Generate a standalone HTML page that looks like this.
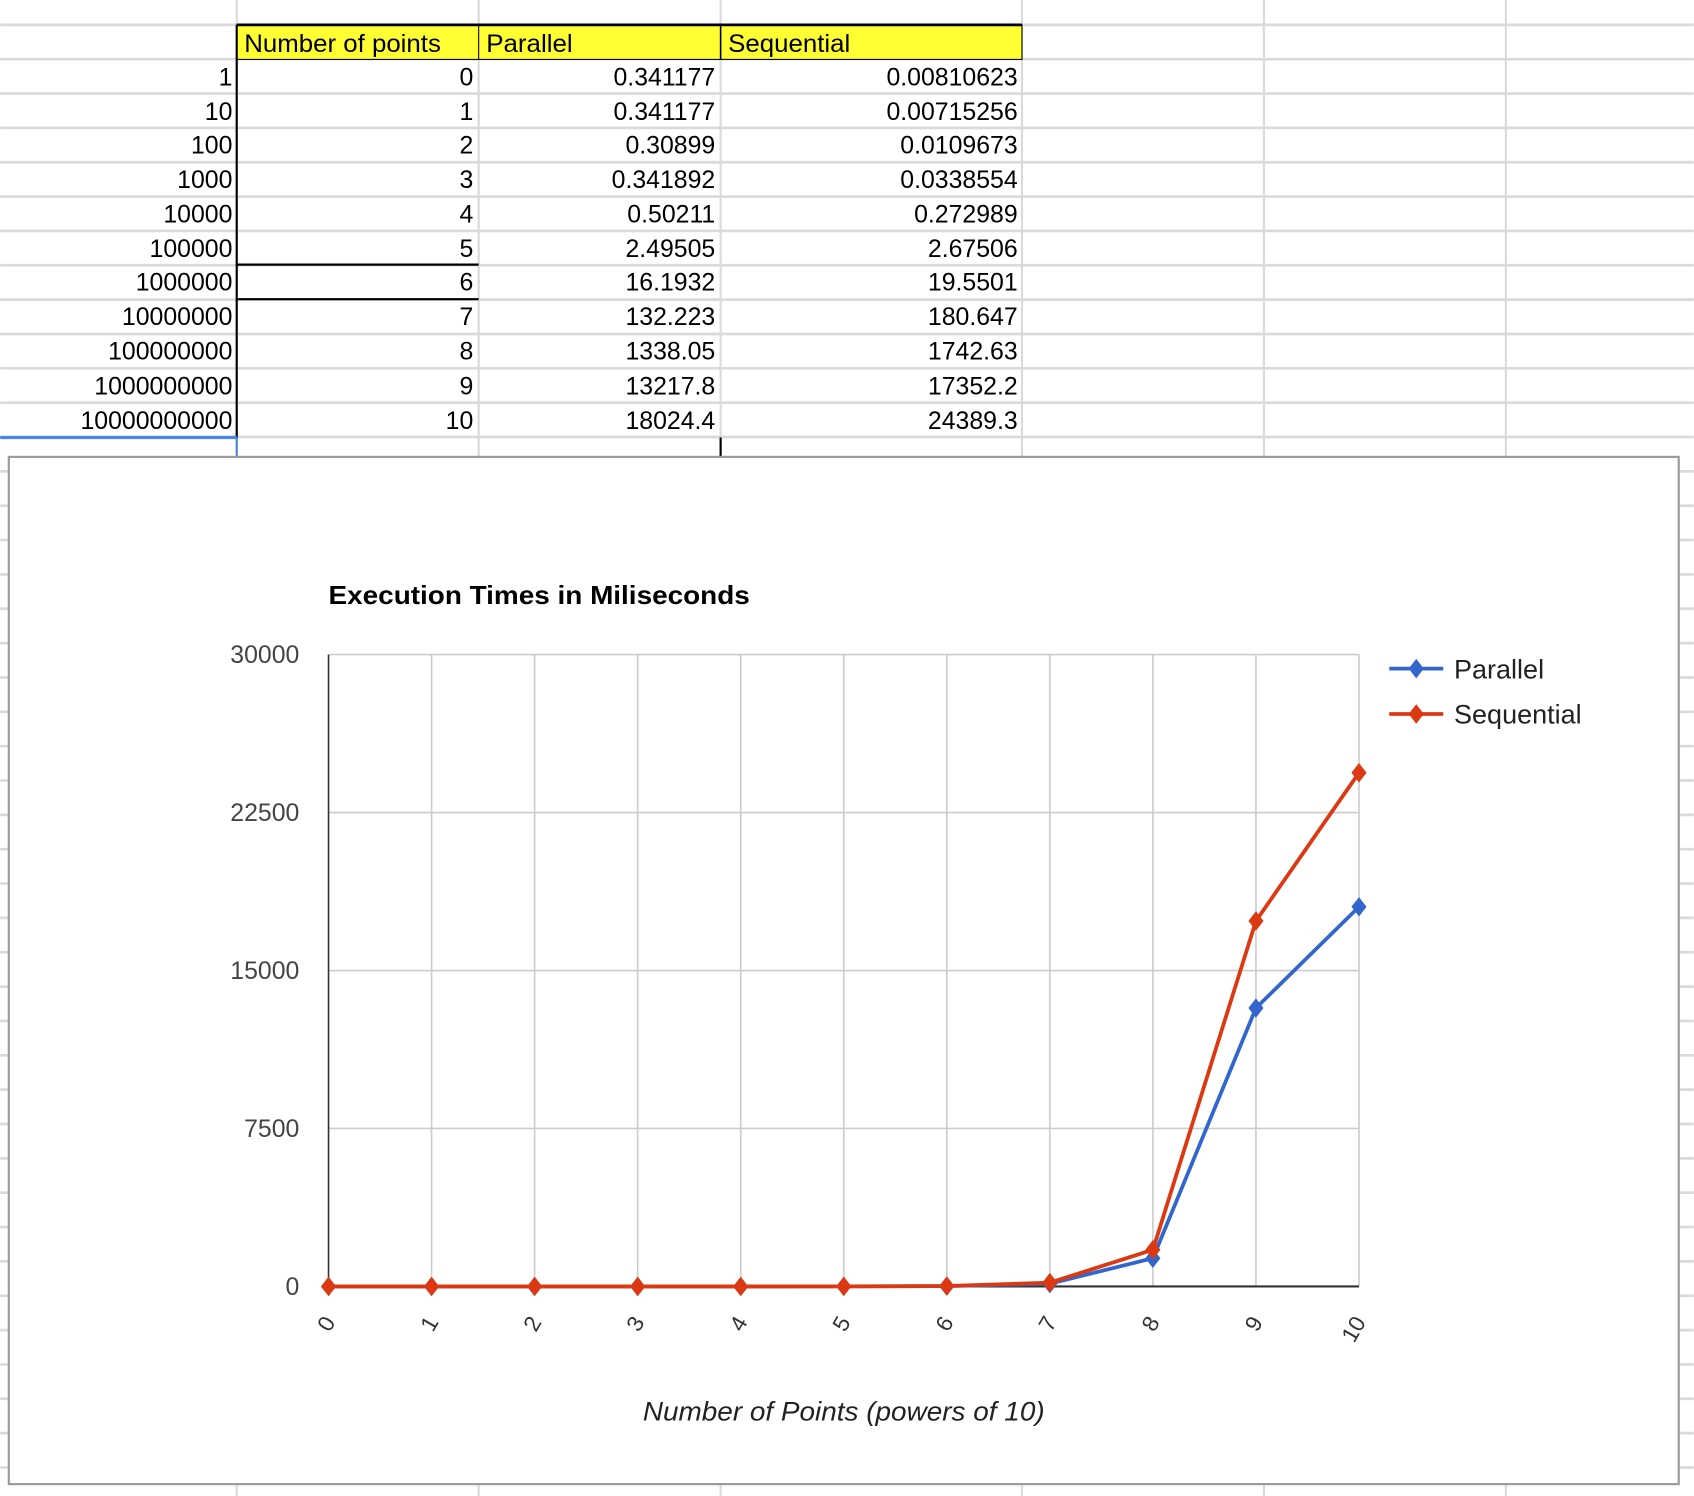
<!DOCTYPE html>
<html><head><meta charset="utf-8"><style>
html,body{margin:0;padding:0;background:#fff;}
svg{display:block;font-family:"Liberation Sans",Arial,sans-serif;}
</style></head><body>
<svg id="root" width="1694" height="1496" viewBox="0 0 1568 1385">
<g id="grid"></g>
<g id="table"></g>
<g id="chart"></g>
</svg>
<script>
const categories=[0,1,2,3,4,5,6,7,8,9,10];
const pointCounts=["1","10","100","1000","10000","100000","1000000","10000000","100000000","1000000000","10000000000"];
const parallelValues=[0.341177,0.341177,0.30899,0.341892,0.50211,2.49505,16.1932,132.223,1338.05,13217.8,18024.4];
const sequentialValues=[0.00810623,0.00715256,0.0109673,0.0338554,0.272989,2.67506,19.5501,180.647,1742.63,17352.2,24389.3];
const parallelLabels=["0.341177","0.341177","0.30899","0.341892","0.50211","2.49505","16.1932","132.223","1338.05","13217.8","18024.4"];
const sequentialLabels=["0.00810623","0.00715256","0.0109673","0.0338554","0.272989","2.67506","19.5501","180.647","1742.63","17352.2","24389.3"];
const yTicks=[0,7500,15000,22500,30000];

const NS="http://www.w3.org/2000/svg";
function mk(parent,tag,attrs,text){const e=document.createElementNS(NS,tag);for(const k in attrs)e.setAttribute(k,attrs[k]);if(text!==undefined)e.textContent=text;parent.appendChild(e);return e;}
const grid=document.getElementById('grid'),table=document.getElementById('table'),chart=document.getElementById('chart');
const cols=[219,443,667,946,1170,1394];
const rowY=[23,55,87,118,150,182,214,245,277,309,341,373,405];
for(let y=23;y<1385;y+=31.8){const l=mk(grid,'line',{x1:0,x2:1568,y1:y,y2:y,stroke:'#dadada','stroke-width':2.5});

}
for(const x of cols){const l=mk(grid,'line',{x1:x,x2:x,y1:0,y2:1385,stroke:'#dadada','stroke-width':2});

}
const hdr=mk(table,'rect',{x:219,y:23,width:727,height:32,fill:'#ffff33',stroke:'#000','stroke-width':1});


mk(table,'line',{x1:219,x2:946,y1:23,y2:23,stroke:'#000','stroke-width':2.5});
mk(table,'line',{x1:443,x2:443,y1:23,y2:55,stroke:'#000','stroke-width':1});
mk(table,'line',{x1:667,x2:667,y1:23,y2:55,stroke:'#000','stroke-width':1.5});
const heads=["Number of points","Parallel","Sequential"];
heads.forEach((h,i)=>{const t=mk(table,'text',{x:cols[i]+7,y:48,'font-size':23,fill:'#000','textLength':i===0?182:(i===1?80:113),'lengthAdjust':'spacingAndGlyphs'},h);

});
mk(table,'line',{x1:219,x2:219,y1:23,y2:405,stroke:'#000','stroke-width':2});
mk(table,'line',{x1:219,x2:443,y1:245,y2:245,stroke:'#000','stroke-width':2});
mk(table,'line',{x1:219,x2:443,y1:277,y2:277,stroke:'#000','stroke-width':2});
mk(table,'line',{x1:0,x2:219,y1:405,y2:405,stroke:'#4a86e8','stroke-width':3});
mk(table,'line',{x1:219,x2:219,y1:405,y2:423,stroke:'#4a86e8','stroke-width':2});
mk(table,'line',{x1:667,x2:667,y1:405,y2:423,stroke:'#000','stroke-width':2});
categories.forEach((c,i)=>{const y=rowY[i+1]+24;
const cells=[[215,pointCounts[i]],[438,String(c)],[662,parallelLabels[i]],[942,sequentialLabels[i]]];
cells.forEach(([x,s])=>{const t=mk(table,'text',{x:x,y:y,'font-size':23,'text-anchor':'end',fill:'#000'},s);

});});
const box=mk(chart,'rect',{x:8,y:423,width:1546,height:951,fill:'#fff',stroke:'#9a9a9a','stroke-width':2});


const X0=304,X1=1258,Y0=1191,Y1=606,YMAX=30000;
const xs=i=>X0+(X1-X0)*i/(categories.length-1);
const ys=v=>Y0-(Y0-Y1)*v/YMAX;
const tt=mk(chart,'text',{x:304,y:559,'font-size':24,'font-weight':'bold',fill:'#000',textLength:390,lengthAdjust:'spacingAndGlyphs'},'Execution Times in Miliseconds');


categories.forEach((c,i)=>{if(i>0){const g=mk(chart,'line',{x1:xs(i),x2:xs(i),y1:Y1,y2:Y0,stroke:'#cccccc','stroke-width':1.5});

}
const t=mk(chart,'text',{x:0,y:0,'font-size':21,fill:'#333','text-anchor':'end',transform:`translate(${xs(i)+7},${Y0+33}) rotate(-60)`},String(c));

});
yTicks.forEach(v=>{if(v>0){const g=mk(chart,'line',{x1:X0,x2:X1,y1:ys(v),y2:ys(v),stroke:'#cccccc','stroke-width':1.5});

}
const t=mk(chart,'text',{x:277,y:ys(v)+8,'font-size':23,fill:'#444','text-anchor':'end'},String(v));

});
mk(chart,'line',{x1:X0,x2:X0,y1:Y1,y2:Y0,stroke:'#333','stroke-width':1.5});
mk(chart,'line',{x1:X0,x2:X1,y1:Y0,y2:Y0,stroke:'#333','stroke-width':2});
const at=mk(chart,'text',{x:781,y:1315,'font-size':25,'font-style':'italic',fill:'#222','text-anchor':'middle',textLength:372,lengthAdjust:'spacingAndGlyphs'},'Number of Points (powers of 10)');


function diamond(g,x,y,col){return mk(g,'path',{d:`M${x} ${y-9}L${x+7} ${y}L${x} ${y+9}L${x-7} ${y}Z`,fill:col});}
function series(vals,col,name){const g=mk(chart,'g',{});


mk(g,'polyline',{points:vals.map((v,i)=>xs(i)+','+ys(v)).join(' '),fill:'none',stroke:col,'stroke-width':3.5,'stroke-linejoin':'round'});
vals.forEach((v,i)=>{const d=diamond(g,xs(i),ys(v),col);

});}
series(parallelValues,'#3366cc','parallel');
series(sequentialValues,'#dc3912','sequential');
[['Parallel','#3366cc',619],['Sequential','#dc3912',661]].forEach(([n,c,y])=>{const g=mk(chart,'g',{});


mk(g,'line',{x1:1286,x2:1336,y1:y,y2:y,stroke:c,'stroke-width':3.5});
diamond(g,1311,y,c);
mk(g,'text',{x:1346,y:y+9,'font-size':25,fill:'#222'},n);});
</script>
</body></html>
